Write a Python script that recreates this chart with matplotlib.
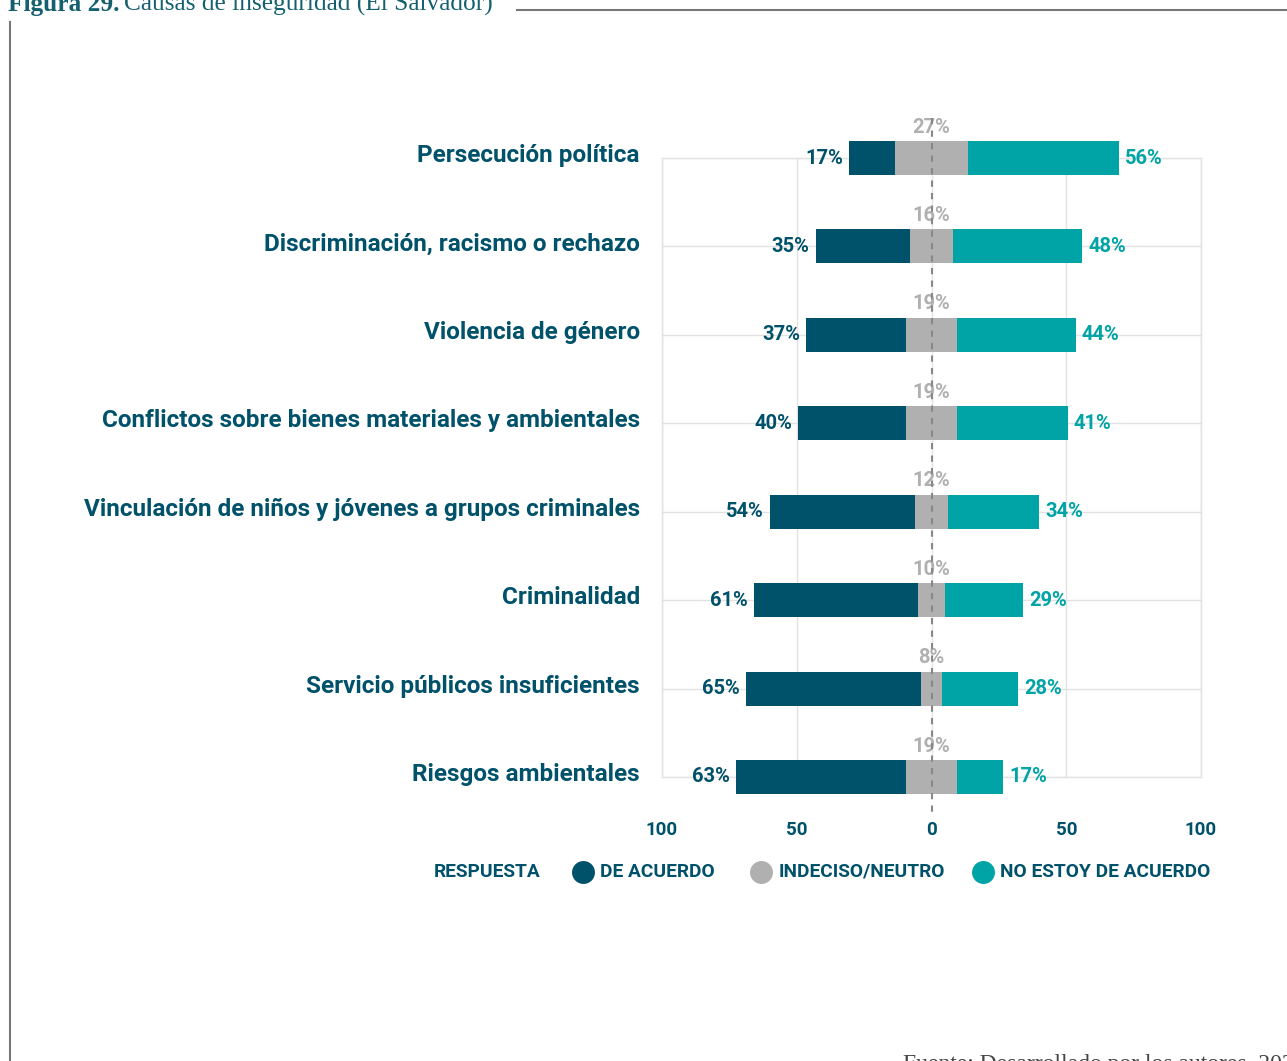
import matplotlib.pyplot as plt
import matplotlib.transforms as mtransforms
import numpy as np
from matplotlib.lines import Line2D

# Survey data: share of answers per cause (percent)
categories = [
    "Persecución política",
    "Discriminación, racismo o rechazo",
    "Violencia de género",
    "Conflictos sobre bienes materiales y ambientales",
    "Vinculación de niños y jóvenes a grupos criminales",
    "Criminalidad",
    "Servicio públicos insuficientes",
    "Riesgos ambientales",
]
de_acuerdo = [17, 35, 37, 40, 54, 61, 65, 63]
neutro = [27, 16, 19, 19, 12, 10, 8, 19]
no_acuerdo = [56, 48, 44, 41, 34, 29, 28, 17]
tick_values = [-100, -50, 0, 50, 100]
tick_labels = ["100", "50", "0", "50", "100"]
legend_labels = ["DE ACUERDO", "INDECISO/NEUTRO", "NO ESTOY DE ACUERDO"]

DARK = "#00516a"
GRAY = "#b0b0b0"
TEAL = "#00a3a6"
GRID = "#e2e2e2"
FONT = "Roboto"

W, H = 1287, 1061
fig = plt.figure(figsize=(W / 100, H / 100), dpi=100)
ax = fig.add_axes([662 / W, 1 - 777 / H, 539 / W, 619 / H])

n = len(categories)
y = np.arange(n)[::-1]
dark = np.array(de_acuerdo)
neu = np.array(neutro)
teal = np.array(no_acuerdo)

bh = 0.385
ax.barh(y, neu, left=-neu / 2, height=bh, color=GRAY, clip_on=False, zorder=3)
ax.barh(y, dark, left=-neu / 2 - dark, height=bh, color=DARK, clip_on=False, zorder=3)
ax.barh(y, teal, left=neu / 2, height=bh, color=TEAL, clip_on=False, zorder=3)

ax.set_xlim(-100, 100)
ax.set_ylim(0, n - 1)

# center reference line
ax.plot([0, 0], [n - 1 + 0.45, -0.4], ls=(0, (3, 3)), color="#888888", lw=1.5,
        clip_on=False, zorder=4)

for yi, d, m, t in zip(y, dark, neu, teal):
    ax.text(-m / 2 - d - 2.3, yi, f"{d}%", ha="right", va="center", color=DARK,
            fontsize=14.5, fontweight="bold", family=FONT, zorder=5)
    ax.text(m / 2 + t + 2.3, yi, f"{t}%", ha="left", va="center", color=TEAL,
            fontsize=14.5, fontweight="bold", family=FONT, zorder=5)
    ax.text(0, yi + 0.35, f"{m}%", ha="center", va="center", color=GRAY,
            fontsize=14.5, fontweight="bold", family=FONT, zorder=2)

# category labels, nudged a few pixels above the bar centre
lift = mtransforms.ScaledTranslation(0, 5 / 100, fig.dpi_scale_trans)
ax.set_yticks(y)
ax.set_yticklabels(categories, fontsize=17.5, fontweight="bold", color=DARK,
                   family=FONT)
ax.tick_params(axis="y", length=0, pad=16)
for lbl in ax.get_yticklabels():
    lbl.set_transform(lbl.get_transform() + lift)

ax.set_xticks(tick_values)
ax.set_xticklabels(tick_labels, fontsize=13.5, fontweight="bold", color=DARK,
                   family=FONT)
ax.tick_params(axis="x", length=0, pad=32)

ax.grid(True, color=GRID, lw=1, zorder=0)
ax.set_axisbelow(True)
for s in ax.spines.values():
    s.set_color(GRID)
    s.set_linewidth(1)

# legend row
ly = 1 - 872 / H
fig.text(434 / W, ly, "RESPUESTA", ha="left", va="center", color=DARK,
         fontsize=13.8, fontweight="bold", family=FONT)
for cx, tx, lab, col in zip([583, 761, 983], [600, 779, 1000], legend_labels,
                            [DARK, GRAY, TEAL]):
    fig.add_artist(Line2D([cx / W], [ly], marker="o", ms=15.5, color=col,
                          transform=fig.transFigure))
    fig.text(tx / W, ly, lab, ha="left", va="center", color=DARK,
             fontsize=13.8, fontweight="bold", family=FONT)

# page frame
fig.add_artist(Line2D([517 / W, 1], [1 - 10 / H] * 2, color="#777777", lw=1.5,
                      transform=fig.transFigure))
fig.add_artist(Line2D([10 / W] * 2, [1 - 22 / H, 0], color="#777777", lw=1.5,
                      transform=fig.transFigure))

# title (runs off the top like the source page)
t1 = fig.text(8 / W, 1 - 11 / H, "Figura 29.", ha="left", va="baseline",
              color="#15606f", fontsize=18.3, fontweight="bold",
              family="Liberation Serif")
fig.canvas.draw()
bb = t1.get_window_extent()
fig.text((bb.x1 + 5) / W, 1 - 11 / H, "Causas de inseguridad (El Salvador)",
         ha="left", va="baseline", color="#15606f", fontsize=18.3,
         family="Liberation Serif")

fig.text(903 / W, 1 - 1070 / H, "Fuente: Desarrollado por los autores, 2023",
         ha="left", va="baseline", color="#444444", fontsize=17,
         family="Liberation Serif")

fig.savefig("out.png", dpi=100)
